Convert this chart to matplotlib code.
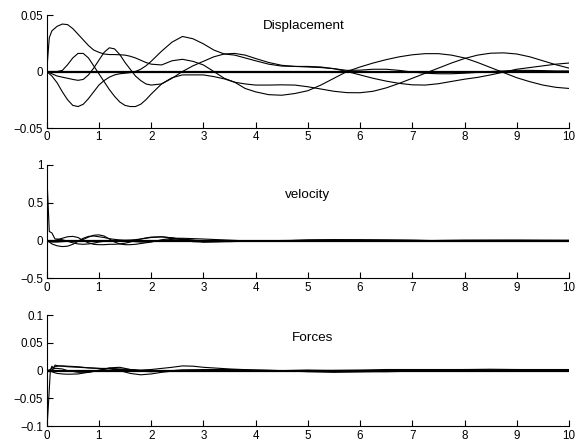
import numpy as np
import matplotlib
matplotlib.use('Agg')
import matplotlib.pyplot as plt

plt.rcParams['font.family'] = ['Liberation Sans', 'DejaVu Sans']
plt.rcParams['font.size'] = 8.4

# ---- displacement of the 4 free nodes + fixed node ----
t_disp = [0, 0.05, 0.1, 0.2, 0.3, 0.4, 0.5, 0.6, 0.7, 0.8, 0.9, 1.0, 1.1, 1.2, 1.3, 1.4,
          1.5, 1.6, 1.7, 1.8, 1.9, 2.0, 2.2, 2.4, 2.6, 2.8, 3.0, 3.2, 3.4, 3.6, 3.8, 4.0,
          4.25, 4.5, 4.75, 5.0, 5.25, 5.5, 5.75, 6.0, 6.25, 6.5, 6.75, 7.0, 7.25, 7.5,
          7.75, 8.0, 8.25, 8.5, 8.75, 9.0, 9.25, 9.5, 9.75, 10.0]
disp1 = [0, 0.030, 0.036, 0.040, 0.042, 0.0415, 0.038, 0.033, 0.028, 0.023, 0.019, 0.017,
         0.0155, 0.015, 0.015, 0.0148, 0.0145, 0.0135, 0.012, 0.010, 0.008, 0.0065, 0.0058,
         0.0095, 0.0108, 0.009, 0.0058, 0.0, -0.006, -0.0095, -0.011, -0.012, -0.012,
         -0.0118, -0.012, -0.0135, -0.0155, -0.0175, -0.0187, -0.0188, -0.0175, -0.0145,
         -0.0105, -0.006, -0.0015, 0.003, 0.0075, 0.0115, 0.0145, 0.0162, 0.0165, 0.0155,
         0.013, 0.0095, 0.006, 0.003]
disp2 = [0, -0.002, -0.004, -0.010, -0.018, -0.025, -0.030, -0.031, -0.029, -0.024, -0.018,
         -0.012, -0.008, -0.005, -0.003, -0.002, -0.0015, -0.001, 0.0, 0.002, 0.005, 0.009,
         0.018, 0.026, 0.031, 0.029, 0.0245, 0.019, 0.0155, 0.0145, 0.012, 0.0095, 0.0065,
         0.0048, 0.0045, 0.0045, 0.004, 0.0025, 0.001, 0.0012, 0.002, 0.002, 0.001, -0.0005,
         -0.0015, -0.002, -0.002, -0.0015, -0.0008, 0.0, 0.0005, 0.001, 0.001, 0.0008,
         0.0005, 0.0005]
disp3 = [0, 0, 0, 0, 0.001, 0.006, 0.012, 0.016, 0.016, 0.012, 0.005, -0.002, -0.009,
         -0.016, -0.022, -0.027, -0.030, -0.031, -0.031, -0.029, -0.025, -0.020, -0.011,
         -0.0055, -0.003, -0.003, -0.003, -0.0045, -0.0065, -0.0095, -0.015, -0.018, -0.0205,
         -0.021, -0.0195, -0.017, -0.012, -0.006, 0.0, 0.004, 0.0075, 0.0105, 0.013, 0.0148,
         0.0158, 0.0158, 0.0145, 0.012, 0.008, 0.0035, -0.001, -0.0055, -0.009, -0.012,
         -0.014, -0.015]
disp4 = [0, -0.001, -0.002, -0.004, -0.005, -0.006, -0.007, -0.0078, -0.007, -0.003, 0.003,
         0.010, 0.017, 0.021, 0.020, 0.015, 0.008, 0.002, -0.004, -0.008, -0.011, -0.012,
         -0.011, -0.006, 0.0, 0.005, 0.009, 0.013, 0.0155, 0.016, 0.0145, 0.0115, 0.008,
         0.0055, 0.0045, 0.004, 0.0035, 0.0025, 0.0, -0.003, -0.006, -0.0085, -0.0105,
         -0.0118, -0.012, -0.0108, -0.0088, -0.0068, -0.0052, -0.003, -0.0005, 0.002, 0.0035,
         0.005, 0.0065, 0.0075]
disp0 = [0.0] * len(t_disp)

# ---- velocities ----
t_vel = [0, 0.05, 0.1, 0.16, 0.2, 0.3, 0.4, 0.5, 0.6, 0.7, 0.8, 0.9, 1.0, 1.1, 1.2, 1.3,
         1.4, 1.5, 1.6, 1.7, 1.8, 1.9, 2.0, 2.2, 2.4, 2.6, 2.8, 3.0, 3.5, 4.0, 4.5, 5.0,
         5.5, 6.0, 6.5, 7.0, 7.5, 8.0, 8.5, 9.0, 9.5, 10.0]
vel1 = [0.91, 0.12, 0.10, 0.02, 0.02, 0.01, -0.01, -0.03, -0.045, -0.05, -0.045, -0.035,
        -0.02, -0.01, -0.003, 0.0, -0.002, -0.005, -0.01, -0.015, -0.02, -0.02, -0.015,
        0.0, 0.015, 0.02, 0.005, -0.02, -0.015, -0.005, 0.0, 0.005, 0.008, 0.008, 0.006,
        0.004, -0.002, -0.006, -0.008, -0.007, -0.005, -0.004]
vel2 = [0, -0.02, -0.045, -0.06, -0.07, -0.08, -0.075, -0.05, -0.01, 0.03, 0.055, 0.06,
        0.05, 0.04, 0.025, 0.015, 0.008, 0.005, 0.007, 0.012, 0.02, 0.03, 0.04, 0.048,
        0.035, 0.01, -0.015, -0.02, -0.01, -0.006, 0.0, -0.003, -0.003, 0.0, -0.002, -0.002,
        0.001, 0.002, 0.002, 0.001, 0.0, 0.0]
vel3 = [0, 0, 0, 0, 0.01, 0.03, 0.05, 0.055, 0.04, 0.0, -0.03, -0.05, -0.055, -0.055,
        -0.05, -0.05, -0.045, -0.035, -0.02, 0.0, 0.02, 0.035, 0.045, 0.05, 0.035, 0.015,
        0.005, -0.003, -0.01, -0.012, -0.005, 0.008, 0.012, 0.01, 0.007, 0.003, -0.002,
        -0.008, -0.011, -0.012, -0.01, -0.008]
vel4 = [0, -0.015, -0.02, -0.02, -0.02, -0.015, -0.01, -0.008, -0.005, 0.015, 0.045, 0.07,
        0.075, 0.06, 0.02, -0.02, -0.045, -0.055, -0.055, -0.05, -0.04, -0.03, -0.02,
        0.01, 0.03, 0.03, 0.025, 0.02, 0.005, -0.01, -0.01, -0.004, -0.004, -0.008, -0.006,
        -0.003, 0.0, 0.004, 0.005, 0.006, 0.005, 0.004]
vel0 = [0.0] * len(t_vel)

# ---- forces ----
t_force = [0, 0.01, 0.04, 0.07, 0.1, 0.13, 0.16, 0.2, 0.3, 0.4, 0.6, 0.8, 1.0, 1.2, 1.4,
           1.6, 1.8, 2.0, 2.2, 2.4, 2.6, 2.8, 3.0, 3.5, 4.0, 4.5, 5.0, 5.5, 6.0, 6.5, 7.0,
           7.5, 8.0, 8.5, 9.0, 9.5, 10.0]
force1 = [0, -0.097, -0.05, 0.0, 0.008, 0.004, 0.010, 0.009, 0.008, 0.007, 0.006, 0.005,
          0.004, 0.003, 0.002, 0.001, 0.0, -0.001, -0.001, 0.0, 0.001, 0.001, 0.001, 0.0,
          0.0, 0.0, -0.001, -0.002, -0.002, -0.002, -0.001, 0.0, 0.001, 0.001, 0.002, 0.002,
          0.002]
force2 = [0, 0, 0.001, 0.002, 0.004, 0.006, 0.007, 0.008, 0.0085, 0.008, 0.007, 0.005, 0.004,
          0.004, 0.003, 0.002, 0.001, 0.002, 0.004, 0.006, 0.0085, 0.008, 0.006, 0.003,
          0.001, 0.0, 0.0, 0.0005, 0.001, 0.002, 0.002, 0.002, 0.002, 0.001, 0.0, -0.001,
          -0.001]
force3 = [0, 0, 0, -0.001, -0.002, -0.003, -0.004, -0.005, -0.006, -0.0065, -0.006, -0.003,
          0.001, 0.004, 0.0, -0.005, -0.0075, -0.006, -0.003, -0.001, 0.0, 0.001, 0.002,
          0.002, 0.001, 0.0, -0.002, -0.003, -0.002, -0.001, 0.0, 0.001, 0.002, 0.0025,
          0.002, 0.001, 0.0]
force4 = [0, 0, 0, 0.0, 0.001, 0.003, 0.004, 0.004, 0.003, 0.0, -0.003, -0.003, 0.0, 0.005,
          0.006, 0.002, -0.001, -0.002, -0.001, 0.0, 0.001, 0.001, 0.0, -0.001, -0.001, 0.0,
          0.001, 0.0, -0.001, 0.0, 0.001, 0.001, 0.0, 0.0, 0.001, 0.0, 0.0]
force0 = [0.0] * len(t_force)

xticks = list(range(0, 11))

fig = plt.figure(figsize=(5.85, 4.44), dpi=100)


def setup(ax, ylim, yticks, yticklabels, label, label_xy):
    ax.set_xlim(0, 10)
    ax.set_ylim(*ylim)
    ax.set_xticks(xticks)
    ax.set_yticks(yticks)
    ax.set_yticklabels(yticklabels)
    for s in ['top', 'right']:
        ax.spines[s].set_visible(False)
    for s in ['left', 'bottom']:
        ax.spines[s].set_linewidth(0.8)
    ax.tick_params(direction='in', length=4, width=0.8, labelsize=8.4)
    ax.tick_params(axis='x', pad=2.5)
    ax.tick_params(axis='y', pad=2.5)
    ax.text(label_xy[0], label_xy[1], label, fontsize=9.7, ha='left', va='center')


ax1 = fig.add_axes([0.0798, 0.7117, 0.8928, 0.2545])
for y in [disp1, disp2, disp3, disp4]:
    ax1.plot(t_disp, y, color='k', lw=0.8)
ax1.plot(t_disp, disp0, color='k', lw=1.6)
setup(ax1, (-0.05, 0.05), [-0.05, 0, 0.05], ['\u22120.05', '0', '0.05'],
      'Displacement', (4.14, 0.040))

ax2 = fig.add_axes([0.0798, 0.3732, 0.8928, 0.2552])
for y in [vel1, vel2, vel3, vel4]:
    ax2.plot(t_vel, y, color='k', lw=0.8)
ax2.plot(t_vel, vel0, color='k', lw=1.6)
setup(ax2, (-0.5, 1), [-0.5, 0, 0.5, 1], ['\u22120.5', '0', '0.5', '1'],
      'velocity', (4.56, 0.60))

ax3 = fig.add_axes([0.0798, 0.04, 0.8928, 0.2505])
for y in [force1, force2, force3, force4]:
    ax3.plot(t_force, y, color='k', lw=0.8)
ax3.plot(t_force, force0, color='k', lw=1.6)
setup(ax3, (-0.1, 0.1), [-0.1, -0.05, 0, 0.05, 0.1],
      ['\u22120.1', '\u22120.05', '0', '0.05', '0.1'], 'Forces', (4.69, 0.059))

fig.savefig('out.png', dpi=100)
